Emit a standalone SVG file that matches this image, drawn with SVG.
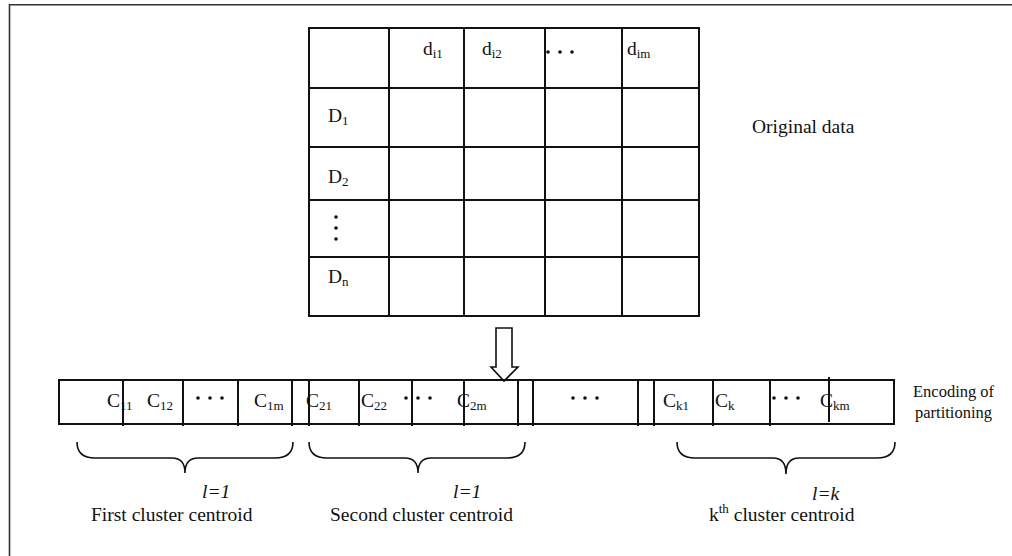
<svg xmlns="http://www.w3.org/2000/svg" width="1012" height="556" viewBox="0 0 1012 556">
<style>
text{font-family:"Liberation Serif","Times New Roman",serif;font-size:19.5px;fill:#111}
.sub{font-size:13px}
.it{font-style:italic}
.enc{font-size:16.5px}
.grid{stroke:#111;stroke-width:2;fill:none}
.brace{stroke:#111;stroke-width:1.6;fill:none}
.dot{fill:#111}
</style>
<rect width="1012" height="556" fill="#fff"/>
<path d="M9.5,556 V4.8 H1012" fill="none" stroke="#333" stroke-width="1.6"/>

<g id="table">
<rect class="grid" x="309" y="28" width="390" height="288"/>
<path class="grid" d="M389,28V316 M464,28V316 M545,28V316 M622,28V316 M309,88H699 M309,147H699 M309,200H699 M309,257H699"/>
<text x="423" y="55">d<tspan class="sub" dy="3">i1</tspan></text>
<text x="482" y="55">d<tspan class="sub" dy="3">i2</tspan></text>
<g class="dot"><circle cx="548" cy="52" r="1.8"/><circle cx="560" cy="52" r="1.8"/><circle cx="572" cy="52" r="1.8"/></g>
<text x="627" y="55">d<tspan class="sub" dy="3">im</tspan></text>
<text x="328" y="122">D<tspan class="sub" dy="3">1</tspan></text>
<text x="328" y="183">D<tspan class="sub" dy="3">2</tspan></text>
<g class="dot"><circle cx="336" cy="217" r="1.8"/><circle cx="336" cy="228" r="1.8"/><circle cx="336" cy="239" r="1.8"/></g>
<text x="328" y="283">D<tspan class="sub" dy="3">n</tspan></text>
</g>

<g id="original-label"><text x="752" y="133">Original data</text></g>

<g id="connectors">
<path d="M496,328 H512 V367 H518 L504,381 L491,367 H496 Z" fill="#fff" stroke="#111" stroke-width="1.6" stroke-linejoin="miter"/>
</g>

<g id="encoding">
<rect class="grid" x="59" y="380" width="835" height="44"/>
<path class="grid" d="M123,380V426 M183,380V426 M238,380V426 M292,380V426 M309,380V426 M359,380V426 M412,380V426 M464,380V426 M518,380V426 M533,380V426 M638,380V426 M654,380V426 M713,380V426 M770,380V426 M829,377V422"/>
<text x="107" y="407">C<tspan class="sub" dy="3">11</tspan></text>
<text x="147" y="407">C<tspan class="sub" dy="3">12</tspan></text>
<g class="dot"><circle cx="198" cy="398" r="1.8"/><circle cx="210" cy="398" r="1.8"/><circle cx="222" cy="398" r="1.8"/></g>
<text x="254" y="407">C<tspan class="sub" dy="3">1m</tspan></text>
<text x="306" y="407">C<tspan class="sub" dy="3">21</tspan></text>
<text x="361" y="407">C<tspan class="sub" dy="3">22</tspan></text>
<g class="dot"><circle cx="406" cy="398" r="1.8"/><circle cx="418" cy="398" r="1.8"/><circle cx="430" cy="398" r="1.8"/></g>
<text x="457" y="407">C<tspan class="sub" dy="3">2m</tspan></text>
<g class="dot"><circle cx="573" cy="398" r="1.8"/><circle cx="585" cy="398" r="1.8"/><circle cx="597" cy="398" r="1.8"/></g>
<text x="663" y="407">C<tspan class="sub" dy="3">k1</tspan></text>
<text x="715" y="407">C<tspan class="sub" dy="3">k</tspan></text>
<g class="dot"><circle cx="774" cy="398" r="1.8"/><circle cx="786" cy="398" r="1.8"/><circle cx="798" cy="398" r="1.8"/></g>
<text x="820" y="407">C<tspan class="sub" dy="3">km</tspan></text>
</g>

<g id="encoding-label">
<text class="enc" x="913" y="397">Encoding of</text>
<text class="enc" x="915" y="418">partitioning</text>
</g>

<g id="cluster1">
<path class="brace" d="M77,442 Q77,458 95,458 L172,458 Q185,458 185,473 Q185,458 198,458 L275,458 Q293,458 293,442"/>
<text class="it" x="202" y="498">l=1</text>
<text x="91" y="521">First cluster centroid</text>
</g>
<g id="cluster2">
<path class="brace" d="M309,442 Q309,458 327,458 L405,458 Q418,458 418,473 Q418,458 431,458 L507,458 Q525,458 525,442"/>
<text class="it" x="453" y="498">l=1</text>
<text x="330" y="521">Second cluster centroid</text>
</g>
<g id="clusterk">
<path class="brace" d="M677,442 Q677,458 695,458 L773,458 Q786,458 786,474 Q786,458 799,458 L877,458 Q895,458 895,442"/>
<text class="it" x="812" y="500">l=k</text>
<text x="709" y="521">k<tspan class="sub" dy="-8">th</tspan><tspan dy="8"> cluster centroid</tspan></text>
</g>
</svg>
